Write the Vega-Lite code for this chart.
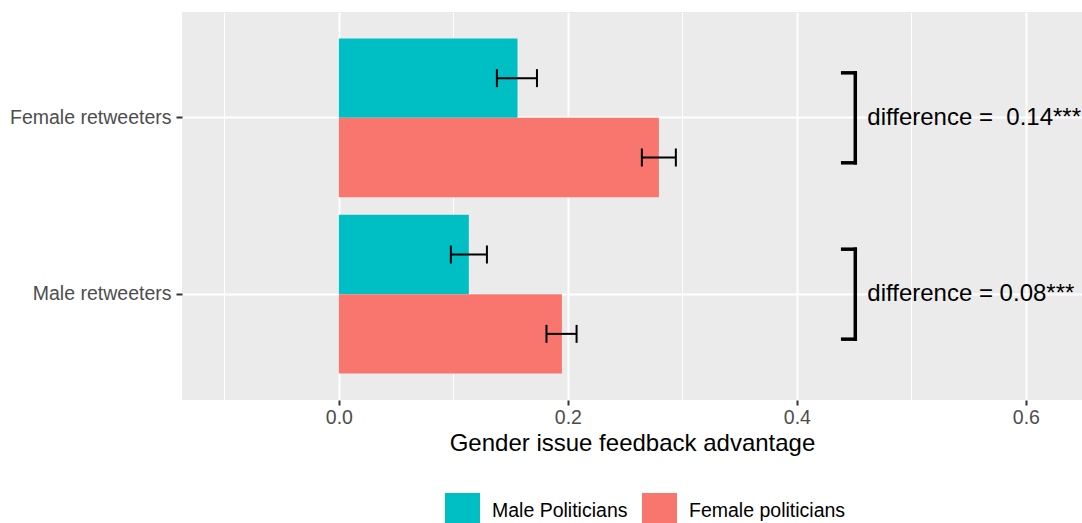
{
  "$schema": "https://vega.github.io/schema/vega-lite/v6.json",
  "width": 900,
  "height": 388,
  "autosize": {"type": "none"},
  "padding": {"left": 182, "top": 12, "right": 0, "bottom": 123},
  "background": "white",
  "datasets": {
    "bars": [
      {"retweeter": "Female retweeters", "politician": "Male Politicians", "value": 0.156, "lo": 0.138, "hi": 0.173},
      {"retweeter": "Female retweeters", "politician": "Female politicians", "value": 0.2795, "lo": 0.2646, "hi": 0.2943},
      {"retweeter": "Male retweeters", "politician": "Male Politicians", "value": 0.1135, "lo": 0.0978, "hi": 0.1293},
      {"retweeter": "Male retweeters", "politician": "Female politicians", "value": 0.1948, "lo": 0.1813, "hi": 0.2076}
    ],
    "diffs": [
      {"retweeter": "Female retweeters", "label": "difference = \u00a00.14***"},
      {"retweeter": "Male retweeters", "label": "difference = 0.08***"}
    ]
  },
  "config": {
    "view": {"fill": "#EBEBEB", "stroke": null},
    "font": "Liberation Sans",
    "axis": {"labelFont": "Liberation Sans", "titleFont": "Liberation Sans"},
    "legend": {"labelFont": "Liberation Sans"},
    "text": {"font": "Liberation Sans"}
  },
  "resolve": {"axis": {"x": "independent", "y": "independent"}},
  "layer": [
    {
      "data": {"name": "bars"},
      "mark": {"type": "bar"},
      "encoding": {
        "y": {
          "field": "retweeter", "type": "nominal",
          "sort": ["Female retweeters", "Male retweeters"],
          "scale": {"paddingInner": 0.1, "paddingOuter": 0.15},
          "axis": {
            "title": null, "domain": false, "grid": true, "gridColor": "white", "gridWidth": 2,
            "tickColor": "#333333", "tickSize": 6, "tickWidth": 2,
            "labelFontSize": 19.5, "labelColor": "#4D4D4D", "labelPadding": 5
          }
        },
        "yOffset": {
          "field": "politician", "type": "nominal",
          "sort": ["Male Politicians", "Female politicians"],
          "scale": {"paddingInner": 0, "paddingOuter": 0}
        },
        "x": {
          "field": "value", "type": "quantitative",
          "scale": {"domain": [-0.137, 0.649], "nice": false},
          "axis": {
            "title": "Gender issue feedback advantage", "values": [0, 0.2, 0.4, 0.6], "format": ".1f",
            "domain": false, "grid": true, "gridColor": "white", "gridWidth": 2,
            "tickColor": "#333333", "tickSize": 5, "tickWidth": 2,
            "labelFontSize": 19.5, "labelColor": "#4D4D4D", "labelPadding": 3,
            "titleFontSize": 24, "titleFontWeight": "normal", "titleColor": "black", "titlePadding": 5
          }
        },
        "color": {
          "field": "politician", "type": "nominal",
          "sort": ["Male Politicians", "Female politicians"],
          "scale": {"domain": ["Male Politicians", "Female politicians"], "range": ["#00BFC4", "#F8766D"]},
          "legend": {
            "title": null, "orient": "none", "legendX": 263, "legendY": 481, "direction": "horizontal",
            "symbolType": "square", "symbolSize": 1225, "symbolStrokeWidth": 0,
            "labelFontSize": 19.5, "labelColor": "black", "labelOffset": 12,
            "columnPadding": 14
          }
        }
      }
    },
    {
      "data": {"name": "bars"},
      "mark": {"type": "rule", "strokeWidth": 2, "color": "black"},
      "encoding": {
        "y": {"field": "retweeter", "type": "nominal", "sort": ["Female retweeters", "Male retweeters"], "axis": null},
        "yOffset": {"field": "politician", "type": "nominal", "sort": ["Male Politicians", "Female politicians"]},
        "x": {
          "field": "lo", "type": "quantitative",
          "scale": {"domain": [-0.137, 0.649], "nice": false},
          "axis": {"values": [-0.1, 0.1, 0.3, 0.5], "grid": true, "gridColor": "white", "gridWidth": 1,
                   "labels": false, "ticks": false, "domain": false, "title": null}
        },
        "x2": {"field": "hi"}
      }
    },
    {
      "data": {"name": "bars"},
      "mark": {"type": "tick", "thickness": 2, "size": 18, "color": "black", "opacity": 1},
      "encoding": {
        "y": {"field": "retweeter", "type": "nominal", "sort": ["Female retweeters", "Male retweeters"], "axis": null},
        "yOffset": {"field": "politician", "type": "nominal", "sort": ["Male Politicians", "Female politicians"]},
        "x": {"field": "lo", "type": "quantitative", "scale": {"domain": [-0.137, 0.649], "nice": false}, "axis": null}
      }
    },
    {
      "data": {"name": "bars"},
      "mark": {"type": "tick", "thickness": 2, "size": 18, "color": "black", "opacity": 1},
      "encoding": {
        "y": {"field": "retweeter", "type": "nominal", "sort": ["Female retweeters", "Male retweeters"], "axis": null},
        "yOffset": {"field": "politician", "type": "nominal", "sort": ["Male Politicians", "Female politicians"]},
        "x": {"field": "hi", "type": "quantitative", "scale": {"domain": [-0.137, 0.649], "nice": false}, "axis": null}
      }
    },
    {
      "data": {"name": "diffs"},
      "mark": {"type": "rule", "strokeWidth": 3.5, "color": "black", "strokeCap": "square"},
      "encoding": {
        "x": {"datum": 0.451, "axis": null},
        "y": {"field": "retweeter", "type": "nominal", "sort": ["Female retweeters", "Male retweeters"], "bandPosition": 0.2166, "axis": null},
        "y2": {"field": "retweeter", "bandPosition": 0.7834}
      }
    },
    {
      "data": {"name": "diffs"},
      "mark": {"type": "rule", "strokeWidth": 3.5, "color": "black", "strokeCap": "square"},
      "encoding": {
        "x": {"datum": 0.44, "axis": null},
        "x2": {"datum": 0.451},
        "y": {"field": "retweeter", "type": "nominal", "sort": ["Female retweeters", "Male retweeters"], "bandPosition": 0.2166, "axis": null}
      }
    },
    {
      "data": {"name": "diffs"},
      "mark": {"type": "rule", "strokeWidth": 3.5, "color": "black", "strokeCap": "square"},
      "encoding": {
        "x": {"datum": 0.44, "axis": null},
        "x2": {"datum": 0.451},
        "y": {"field": "retweeter", "type": "nominal", "sort": ["Female retweeters", "Male retweeters"], "bandPosition": 0.7834, "axis": null}
      }
    },
    {
      "data": {"name": "diffs"},
      "mark": {"type": "text", "align": "left", "baseline": "middle", "fontSize": 24, "color": "black"},
      "encoding": {
        "x": {"datum": 0.4615, "axis": null},
        "y": {"field": "retweeter", "type": "nominal", "sort": ["Female retweeters", "Male retweeters"], "axis": null},
        "text": {"field": "label"}
      }
    }
  ]
}
